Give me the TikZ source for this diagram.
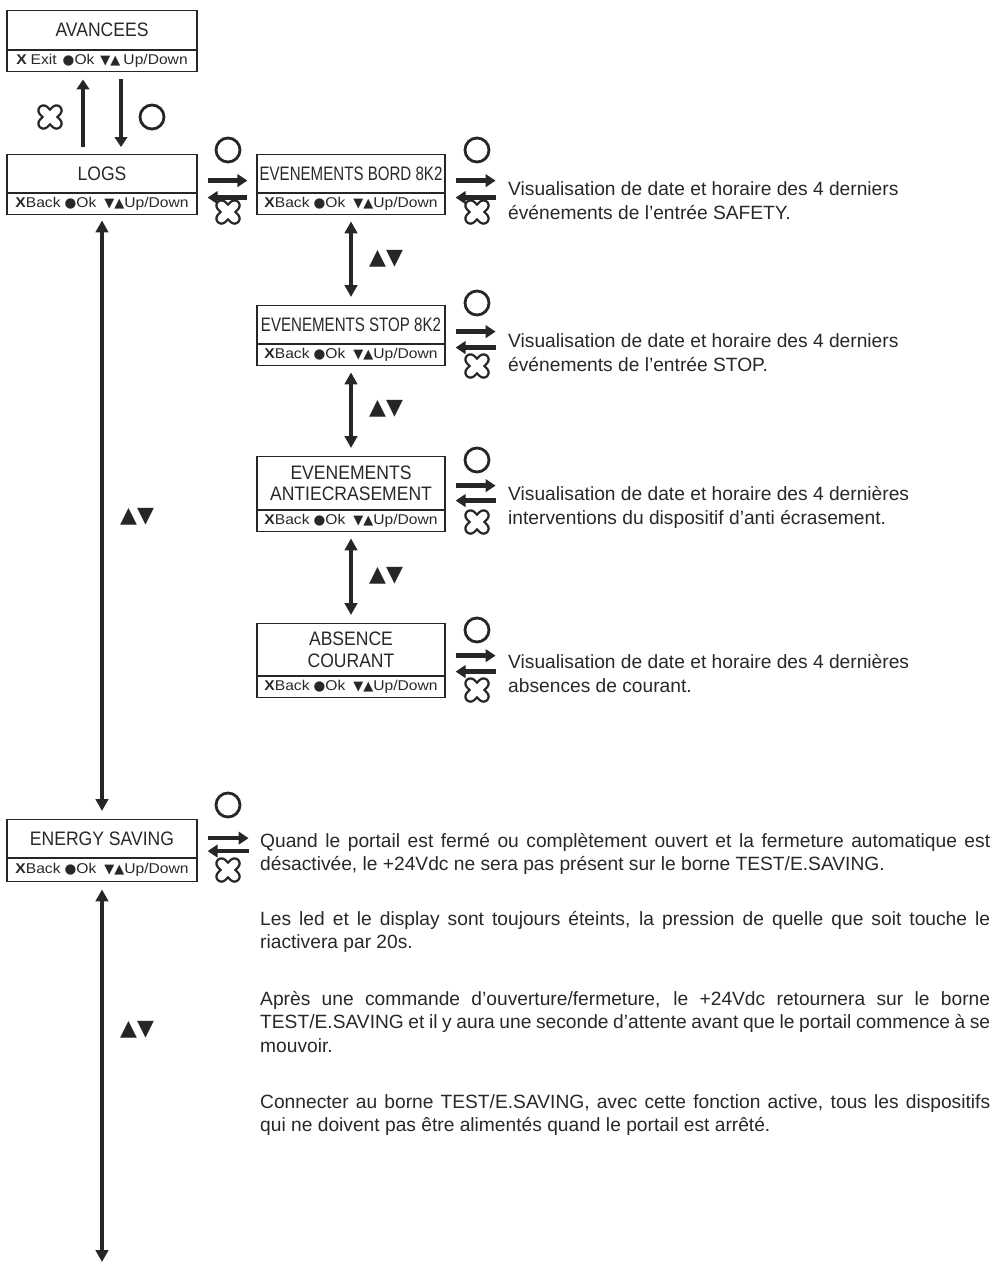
\documentclass[tikz,border=0pt]{standalone}
\usepackage{fontspec}
\usepackage{graphicx}
\setmainfont{Liberation Sans}
\newfontfamily\titlefont[FakeStretch=0.9]{Liberation Sans}
\newfontfamily\rowfont[FakeStretch=1.1]{Liberation Sans}
\newfontfamily\symfont{DejaVu Sans}
\usetikzlibrary{arrows.meta}
\definecolor{ink}{RGB}{38,38,38}
\definecolor{txt}{RGB}{40,40,40}
\newcommand\tris{{\symfont\fontsize{13}{13}\selectfont ▼▲}}
\newcommand\dotsym{{\symfont\fontsize{13.5}{13.5}\selectfont ●}}
\newcommand\rowback{\textbf{X}Back\hspace{4pt}\dotsym Ok\hspace{8pt}\tris Up/Down}
\newcommand\parsetup{\spaceskip=0.278em plus 0.3em minus 0.14em\relax\hyphenpenalty=10000\relax\tolerance=9999\relax}
\tikzset{
  ttl/.style={draw=ink, line width=1.2pt, inner sep=0pt, anchor=north, text=txt, align=center,
    font=\titlefont\fontsize{19.5}{21.5}\selectfont},
  rowb/.style={draw=ink, line width=1.2pt, inner sep=0pt, anchor=north, text=txt, minimum height=21pt,
    font=\rowfont\fontsize{14.2}{15}\selectfont},
  arr/.style={draw=ink, line width=4.4pt, -{Triangle[length=10pt,width=12.5pt]}},
  darr/.style={draw=ink, line width=4.4pt, {Triangle[length=12pt,width=12.5pt]}-{Triangle[length=12pt,width=12.5pt]}},
  updn/.style={text=ink, inner sep=0pt, font=\symfont\fontsize{22}{22}\selectfont},
  desc/.style={text=txt, inner sep=0pt, anchor=north west, align=left, font=\fontsize{19.2}{24}\selectfont},
  para/.style={text=txt, inner sep=0pt, anchor=north west, text width=730pt, align=justify,
    font=\fontsize{19.2}{23.5}\selectfont},
  xmark/.pic={
    \draw[ink, line width=12.5pt, line cap=round] (-6.5,-6.5) -- (6.5,6.5) (-6.5,6.5) -- (6.5,-6.5);
    \draw[white, line width=8pt, line cap=round] (-6.5,-6.5) -- (6.5,6.5) (-6.5,6.5) -- (6.5,-6.5);
  },
  omark/.pic={\draw[ink, line width=2.8pt] (0,0) circle[radius=12pt];},
}
\begin{document}
\begin{tikzpicture}[x=1pt,y=-1pt]
\useasboundingbox (0,0) rectangle (995,1264);

% ---- boxes ----
\node[ttl, minimum width=190pt, minimum height=39pt] (av) at (102,10) {AVANCEES};
\node[rowb, minimum width=190pt] (avr) at (av.south)
  {\textbf{X}\hspace{4pt}Exit\hspace{6pt}\dotsym Ok\hspace{6pt}\tris\hspace{3pt}Up/Down};

\node[ttl, minimum width=190pt, minimum height=38pt] (logs) at (102,154) {LOGS};
\node[rowb, minimum width=190pt] (logsr) at (logs.south) {\rowback};

\node[ttl, minimum width=188pt, minimum height=38pt] (bord) at (351,154) {\scalebox{0.86}[1]{EVENEMENTS BORD 8K2}};
\node[rowb, minimum width=188pt] (bordr) at (bord.south) {\rowback};

\node[ttl, minimum width=188pt, minimum height=38pt] (stop) at (351,305) {\scalebox{0.86}[1]{EVENEMENTS STOP 8K2}};
\node[rowb, minimum width=188pt] (stopr) at (stop.south) {\rowback};

\node[ttl, minimum width=188pt, minimum height=53pt] (anti) at (351,456) {EVENEMENTS\\ANTIECRASEMENT};
\node[rowb, minimum width=188pt] (antir) at (anti.south) {\rowback};

\node[ttl, minimum width=188pt, minimum height=52pt] (abs) at (351,623) {ABSENCE\\COURANT};
\node[rowb, minimum width=188pt] (absr) at (abs.south) {\rowback};

\node[ttl, minimum width=190pt, minimum height=38pt] (en) at (102,819) {ENERGY SAVING};
\node[rowb, minimum width=190pt, minimum height=23pt] (enr) at (en.south) {\rowback};

\coordinate (bottom) at (102,1262);

% ---- AVANCEES <-> LOGS ----
\draw[arr] ([xshift=-19pt,yshift=7pt]logs.north) -- ([xshift=-19pt,yshift=-7pt]avr.south);
\draw[arr] ([xshift=19pt,yshift=-7pt]avr.south) -- ([xshift=19pt,yshift=7pt]logs.north);
\pic at (50,117) {xmark};
\pic at (152,117) {omark};

% ---- LOGS <-> BORD ----
\draw[arr] ([xshift=10pt,yshift=-7pt]logs.east) -- ([xshift=-9pt,yshift=-7pt]bord.west);
\draw[arr] ([xshift=-9pt,yshift=-24pt]bord.west) -- ([xshift=10pt,yshift=-24pt]logs.east);
\pic at (228,150) {omark};
\pic at (228,212) {xmark};

% ---- right side of sub menus ----
\node[desc] (t1) at (508,181) {Visualisation de date et horaire des 4 derniers\\événements de l’entrée SAFETY.};
\draw[arr] ([xshift=10pt,yshift=-7pt]bord.east) -- ++(40,0);
\draw[arr] ([xshift=50pt,yshift=-24pt]bord.east) -- ++(-40,0);
\pic at (477,150) {omark};
\pic at (477,212) {xmark};

\node[desc] (t2) at (508,333) {Visualisation de date et horaire des 4 derniers\\événements de l’entrée STOP.};
\draw[arr] ([xshift=10pt,yshift=-7pt]stop.east) -- ++(40,0);
\draw[arr] ([xshift=50pt,yshift=-23pt]stop.east) -- ++(-40,0);
\pic at (477,303) {omark};
\pic at (477,366) {xmark};

\node[desc] (t3) at (508,486) {Visualisation de date et horaire des 4 dernières\\interventions du dispositif d’anti écrasement.};
\draw[arr] ([xshift=10pt,yshift=-2.5pt]anti.east) -- ++(40,0);
\draw[arr] ([xshift=50pt,yshift=-17.5pt]anti.east) -- ++(-40,0);
\pic at (477,460) {omark};
\pic at (477,522) {xmark};

\node[desc] (t4) at (508,654) {Visualisation de date et horaire des 4 dernières\\absences de courant.};
\draw[arr] ([xshift=10pt,yshift=-6pt]abs.east) -- ++(40,0);
\draw[arr] ([xshift=50pt,yshift=-22pt]abs.east) -- ++(-40,0);
\pic at (477,630) {omark};
\pic at (477,690) {xmark};

% ---- vertical navigation ----
\draw[darr] ([yshift=-6pt]bordr.south) -- ([yshift=8pt]stop.north);
\node[updn] (ud1) at (386,259) {▲▼};
\draw[darr] ([yshift=-6pt]stopr.south) -- ([yshift=8pt]anti.north);
\node[updn] (ud2) at (386,409) {▲▼};
\draw[darr] ([yshift=-6pt]antir.south) -- ([yshift=8pt]abs.north);
\node[updn] (ud3) at (386,576) {▲▼};

\draw[darr] ([yshift=-5pt]logsr.south) -- ([yshift=8pt]en.north);
\node[updn] (ud4) at (137,517) {▲▼};
\draw[darr] ([yshift=-7pt]enr.south) -- (bottom);
\node[updn] (ud5) at (137,1030) {▲▼};

% ---- ENERGY SAVING ----
\draw[arr] ([xshift=10pt,yshift=0.5pt]en.east) -- ++(41,0);
\draw[arr] ([xshift=51pt,yshift=-12.5pt]en.east) -- ++(-41,0);
\pic at (228,805) {omark};
\pic at (228,870) {xmark};

\node[para] (p1) at (260,833) {\parsetup Quand le portail est fermé ou complètement ouvert et la fermeture automatique est\linebreak désactivée, le +24Vdc ne sera pas présent sur le borne TEST/E.SAVING.};
\node[para] (p2) at (260,911) {\parsetup Les led et le display sont toujours éteints, la pression de quelle que soit touche le\linebreak riactivera par 20s.};
\node[para] (p3) at (260,991) {\parsetup Après une commande d’ouverture/fermeture, le +24Vdc retournera sur le borne\linebreak TEST/E.SAVING et il y aura une seconde d’attente avant que le portail commence à se\linebreak mouvoir.};
\node[para] (p4) at (260,1094) {\parsetup Connecter au borne TEST/E.SAVING, avec cette fonction active, tous les dispositifs\linebreak qui ne doivent pas être alimentés quand le portail est arrêté.};
\end{tikzpicture}
\end{document}
